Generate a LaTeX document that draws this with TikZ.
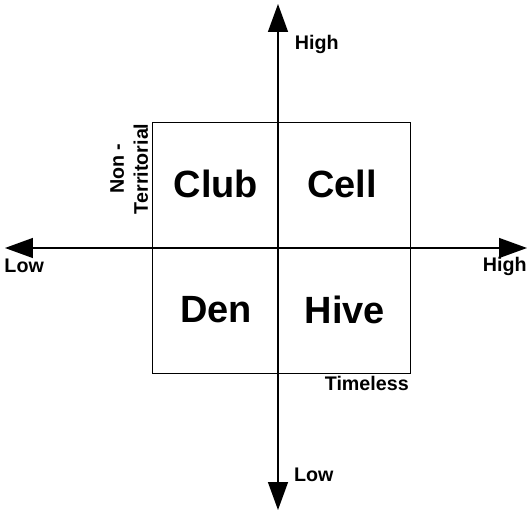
\documentclass[tikz,border=0pt]{standalone}
\usepackage{fontspec}
\setmainfont{Liberation Sans}
\usetikzlibrary{arrows.meta, positioning}

\begin{document}
\begin{tikzpicture}[
  axis/.style={line width=1pt, {Triangle[length=0.7cm, width=0.5cm]}-{Triangle[length=0.7cm, width=0.5cm]}},
  frame/.style={draw, line width=0.6pt, inner sep=0pt, minimum width=6.45cm, minimum height=6.275cm},
  quad/.style={font=\fontsize{27}{30}\selectfont\bfseries},
  lbl/.style={font=\fontsize{14}{17}\selectfont\bfseries, inner sep=1pt}
]
\useasboundingbox (-6.95,-6.6) rectangle (6.25,6.2);

% Frame
\node[frame] (grid) at (0.075,0.0125) {};

% Axes
\coordinate (xlow)  at (-6.825,0);
\coordinate (xhigh) at (6.225,0);
\coordinate (ylow)  at (0,-6.55);
\coordinate (yhigh) at (0,6.1);
\draw[axis] (xlow) -- (xhigh);
\draw[axis] (ylow) -- (yhigh);

% Quadrants
\node[quad] (club) at (-1.55,1.6)   {Club};
\node[quad] (cell) at (1.6,1.6)     {Cell};
\node[quad] (den)  at (-1.55,-1.55) {Den};
\node[quad] (hive) at (1.675,-1.55) {Hive};

% Axis labels
\node[lbl, anchor=west] (yhighlbl) at (0.38,5.08)   {High};
\node[lbl, anchor=west] (ylowlbl)  at (0.36,-5.68) {Low};
\node[lbl, anchor=west] (xlowlbl)  at (-6.88,-0.45) {Low};
\node[lbl, anchor=east] (xhighlbl) at (6.26,-0.45)  {High};
\node[lbl, below=1pt of grid.south east, anchor=north east] (timeless) {Timeless};
\node[lbl, rotate=90, align=center] (nonterr) at (-3.72,1.98) {Non -\\Territorial};
\end{tikzpicture}
\end{document}
